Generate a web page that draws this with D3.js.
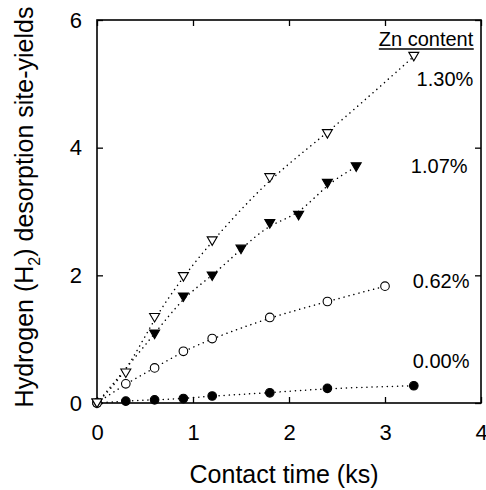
<!DOCTYPE html>
<html>
<head>
<meta charset="utf-8">
<script src="https://cdn.jsdelivr.net/npm/d3@7"></script>
<style>
  body { margin: 0; background: #fff; }
  svg text { font-family: "Liberation Sans", Arial, sans-serif; fill: #000; }
</style>
</head>
<body>
<div id="chart"></div>
<script>
// Contact time (ks) for each series
var time000 = [0, 0.3, 0.6, 0.9, 1.2, 1.8, 2.4, 3.3];
var yield000 = [0, 0.03, 0.05, 0.07, 0.11, 0.16, 0.23, 0.27];

var time062 = [0, 0.3, 0.6, 0.9, 1.2, 1.8, 2.4, 3.0];
var yield062 = [0, 0.30, 0.55, 0.81, 1.01, 1.34, 1.59, 1.83];

var time107 = [0, 0.6, 0.9, 1.2, 1.5, 1.8, 2.1, 2.4, 2.7];
var yield107 = [0, 1.08, 1.66, 1.99, 2.41, 2.81, 2.94, 3.44, 3.70];

var time130 = [0, 0.3, 0.6, 0.9, 1.2, 1.8, 2.4, 3.3];
var yield130 = [0, 0.47, 1.34, 1.98, 2.54, 3.53, 4.22, 5.43];

var seriesLabels = ["0.00%", "0.62%", "1.07%", "1.30%"];
var xTicks = [0, 1, 2, 3, 4];
var yTicks = [0, 2, 4, 6];

function zip(xs, ys) {
    return xs.map(function(d, i) { return {t: d, v: ys[i]}; });
}

var series = [
    {label: seriesLabels[0], data: zip(time000, yield000), shape: "circle", filled: true,  lx: 3.88, ly: 0.55},
    {label: seriesLabels[1], data: zip(time062, yield062), shape: "circle", filled: false, lx: 3.88, ly: 1.80},
    {label: seriesLabels[2], data: zip(time107, yield107), shape: "tri",    filled: true,  lx: 3.86, ly: 3.60},
    {label: seriesLabels[3], data: zip(time130, yield130), shape: "tri",    filled: false, lx: 3.92, ly: 4.97}
];

// Margins and canvas
const margin = { top: 20, right: 5, bottom: 87, left: 97 },
    W = 486, H = 490,
    width = W - margin.left - margin.right,
    height = H - margin.top - margin.bottom;

// Scales
const x = d3.scaleLinear().domain([0, 4]).range([0, width]),
    y = d3.scaleLinear().domain([0, 6]).range([height, 0]);

var svg = d3.select("#chart").append("svg")
    .attr("width", W)
    .attr("height", H)
    .append("g")
    .attr("transform", "translate(" + margin.left + "," + margin.top + ")");

// Axes (ticks point inward on all four sides)
var fmt = d3.format("d");
var axB = svg.append("g")
    .attr("transform", "translate(0," + height + ")")
    .call(d3.axisBottom(x).tickValues(xTicks).tickFormat(fmt).tickSizeInner(-6).tickSizeOuter(0).tickPadding(21));
var axL = svg.append("g")
    .call(d3.axisLeft(y).tickValues(yTicks).tickFormat(fmt).tickSizeInner(-6).tickSizeOuter(0).tickPadding(15));
var axT = svg.append("g")
    .call(d3.axisTop(x).tickValues(xTicks).tickSizeInner(-6).tickSizeOuter(0).tickFormat(""));
var axR = svg.append("g")
    .attr("transform", "translate(" + width + ",0)")
    .call(d3.axisRight(y).tickValues(yTicks).tickSizeInner(-6).tickSizeOuter(0).tickFormat(""));

[axB, axL, axT, axR].forEach(function(a) {
    a.select(".domain").remove();
    a.selectAll(".tick line").attr("stroke", "#000").attr("stroke-width", 1.3);
    a.selectAll(".tick text").style("font-size", "22px");
});

// Frame
svg.append("rect")
    .attr("width", width)
    .attr("height", height)
    .attr("fill", "none")
    .attr("stroke", "#000")
    .attr("stroke-width", 1.6);

// Dotted curves through data
var line = d3.line()
    .x(function(d) { return x(d.t); })
    .y(function(d) { return y(d.v); })
    .curve(d3.curveBasis);

series.forEach(function(s) {
    svg.append("path")
        .datum(s.data)
        .attr("fill", "none")
        .attr("stroke", "#000")
        .attr("stroke-width", 1.5)
        .attr("stroke-linecap", "round")
        .attr("stroke-dasharray", "0.1,5")
        .attr("d", line);
});

// Markers
var triPath = "M-5,-4L5,-4L0,4.5Z";
series.forEach(function(s) {
    var g = svg.append("g");
    var sel = g.selectAll(".pt").data(s.data).enter();
    if (s.shape === "circle") {
        sel.append("circle")
            .attr("cx", function(d) { return x(d.t); })
            .attr("cy", function(d) { return y(d.v); })
            .attr("r", 4.3)
            .attr("fill", s.filled ? "#000" : "#fff")
            .attr("stroke", "#000")
            .attr("stroke-width", 1.1);
    } else {
        sel.append("path")
            .attr("d", triPath)
            .attr("transform", function(d) { return "translate(" + x(d.t) + "," + y(d.v) + ")"; })
            .attr("fill", s.filled ? "#000" : "#fff")
            .attr("stroke", "#000")
            .attr("stroke-width", 1.1);
    }
});

// Series labels
series.forEach(function(s) {
    svg.append("text")
        .attr("x", x(s.lx))
        .attr("y", y(s.ly))
        .attr("text-anchor", "end")
        .style("font-size", "20px")
        .text(s.label);
});

// Legend title
var zn = svg.append("text")
    .attr("x", x(3.92))
    .attr("y", y(5.6))
    .attr("text-anchor", "end")
    .style("font-size", "20px")
    .text("Zn content");
var bb = zn.node().getBBox();
svg.append("line")
    .attr("x1", bb.x).attr("x2", bb.x + bb.width)
    .attr("y1", y(5.6) + 3.5).attr("y2", y(5.6) + 3.5)
    .attr("stroke", "#000")
    .attr("stroke-width", 1.5);

// Axis labels
svg.append("text")
    .attr("x", width / 2 - 5)
    .attr("y", height + 80)
    .attr("text-anchor", "middle")
    .style("font-size", "25px")
    .text("Contact time (ks)");

var yl = svg.append("text")
    .attr("text-anchor", "middle")
    .attr("transform", "translate(" + (33 - margin.left) + "," + (207 - margin.top) + ")rotate(-90)")
    .style("font-size", "25px");
yl.append("tspan").text("Hydrogen (H");
yl.append("tspan").attr("dy", 7).style("font-size", "16px").text("2");
yl.append("tspan").attr("dy", -7).text(") desorption site-yields");
</script>
</body>
</html>
